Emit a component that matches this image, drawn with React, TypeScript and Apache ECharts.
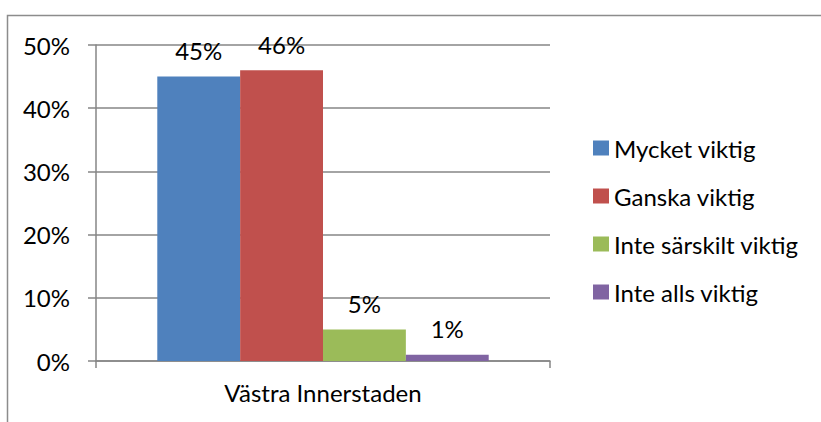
import React, { useEffect, useRef } from "react";
import * as echarts from "echarts";

const categories = ["Västra Innerstaden"];
const seriesNames = ["Mycket viktig", "Ganska viktig", "Inte särskilt viktig", "Inte alls viktig"];
const seriesValues = [[45], [46], [5], [1]];
const seriesColors = ["#4F81BD", "#C0504D", "#9BBB59", "#8064A2"];

const FONT = "Lato, 'Liberation Sans', sans-serif";
const FS = 24;

export default function App() {
  const ref = useRef<HTMLDivElement>(null);
  useEffect(() => {
    const chart = echarts.init(ref.current!, null, { renderer: "svg" });
    chart.setOption({
      animation: false,
      backgroundColor: "#fff",
      textStyle: { fontFamily: FONT },
      graphic: [
        {
          type: "polyline",
          shape: { points: [[7.5, 430], [7.5, 15.5], [830, 15.5]] },
          style: { stroke: "#8c8c8c", lineWidth: 1.5, fill: null },
          silent: true,
        },
      ],
      grid: { left: 96, right: 271, top: 45, bottom: 61, containLabel: false },
      legend: {
        orient: "vertical",
        left: 593,
        top: 136,
        padding: 0,
        itemWidth: 16,
        itemHeight: 15,
        itemGap: 24,
        itemStyle: { borderWidth: 0 },
        icon: "rect",
        textStyle: { fontSize: FS, color: "#000", fontFamily: FONT, lineHeight: 24 },
        data: seriesNames,
      },
      xAxis: {
        type: "category",
        data: categories,
        axisLine: { lineStyle: { color: "#868686", width: 1.5 } },
        axisTick: { show: true, length: 7, lineStyle: { color: "#868686", width: 1.5 } },
        axisLabel: { fontSize: FS, color: "#000", margin: 19, fontFamily: FONT },
      },
      yAxis: {
        type: "value",
        min: 0,
        max: 50,
        interval: 10,
        axisLine: { show: true, lineStyle: { color: "#868686", width: 1.5 } },
        axisTick: { show: true, length: 8, lineStyle: { color: "#868686", width: 1.5 } },
        splitLine: { lineStyle: { color: "#868686", width: 1.5 } },
        axisLabel: { fontSize: FS, color: "#000", margin: 26, formatter: "{value}%", fontFamily: FONT },
      },
      series: seriesNames.map((name, i) => ({
        name,
        type: "bar",
        data: seriesValues[i],
        barGap: "0%",
        barCategoryGap: "27%",
        itemStyle: { color: seriesColors[i] },
        label: {
          show: true,
          position: "top",
          distance: 14,
          formatter: "{c}%",
          fontSize: FS,
          color: "#000",
          fontFamily: FONT,
        },
      })),
    });
    return () => chart.dispose();
  }, []);
  return (
    <div
      ref={ref}
      style={{ position: "fixed", left: 0, top: 0, width: 821, height: 422 }}
    />
  );
}
